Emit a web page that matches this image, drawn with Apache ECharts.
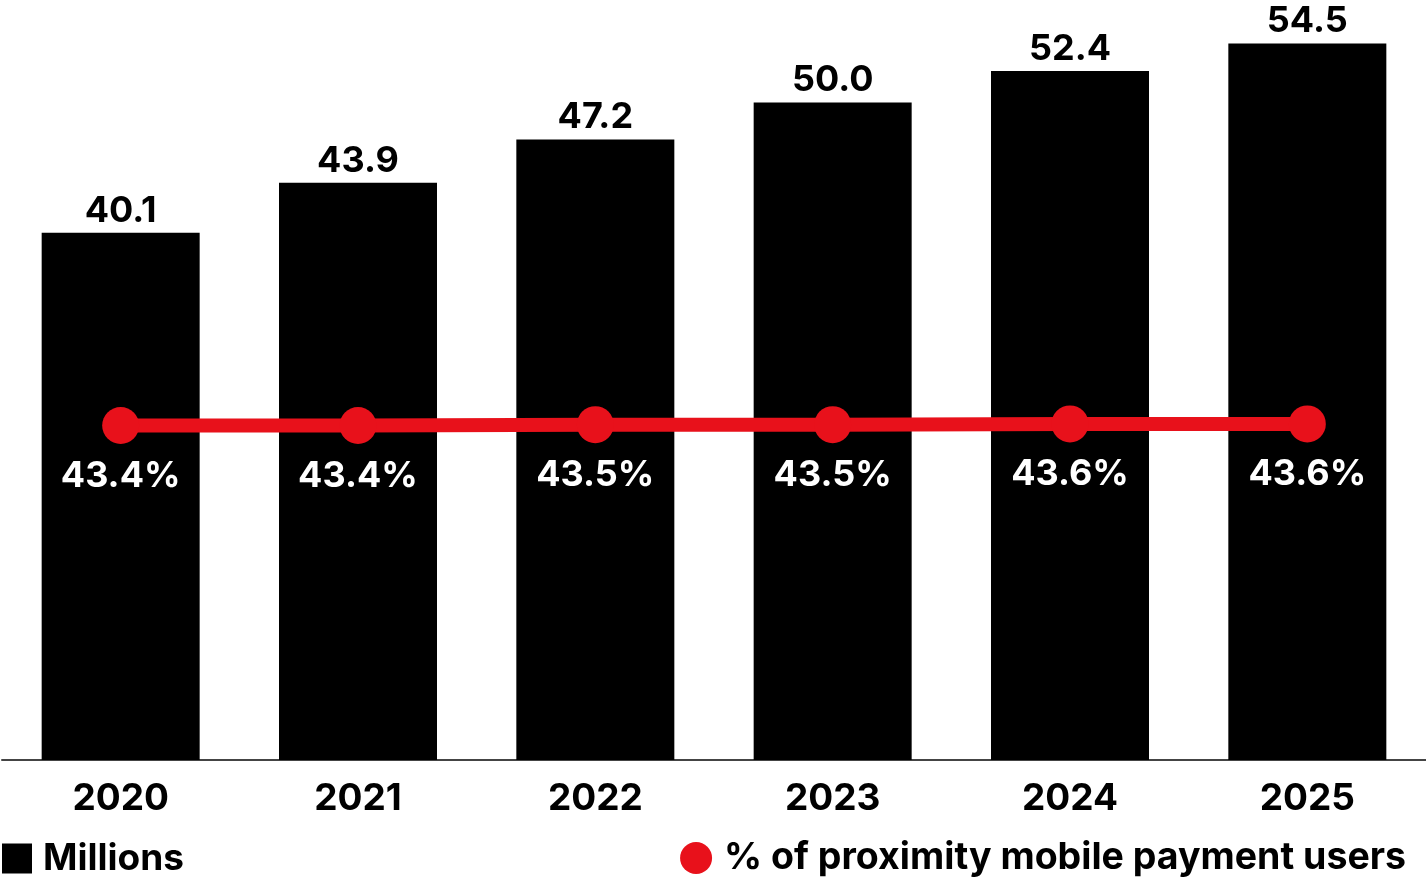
<!DOCTYPE html>
<html>
<head>
<meta charset="utf-8">
<script src="https://cdn.jsdelivr.net/npm/echarts@6/dist/echarts.min.js"></script>
<style>
html,body{margin:0;padding:0;background:#fff;}
#chart{width:1426px;height:878px;}
</style>
</head>
<body>
<div id="chart"></div>
<script>
const years = ['2020', '2021', '2022', '2023', '2024', '2025'];
const millions = [40.1, 43.9, 47.2, 50.0, 52.4, 54.5];
const sharePct = [43.4, 43.4, 43.5, 43.5, 43.6, 43.6];
const barName = 'Millions';
const lineName = '% of proximity mobile payment users';

const FONT = 'Inter, "Noto Sans", sans-serif';
const chart = echarts.init(document.getElementById('chart'));
chart.setOption({
  animation: false,
  backgroundColor: '#fff',
  textStyle: { fontFamily: FONT },
  grid: { left: 2, right: 0, top: 0, bottom: 118, containLabel: false },
  legend: [
    {
      data: [{ name: barName, icon: 'rect' }],
      left: 2, top: 840, padding: 0,
      itemWidth: 30, itemHeight: 30,
      textStyle: { fontFamily: FONT, fontSize: 37, fontWeight: 'bold', color: '#000', padding: [0, 0, 0, 6] }
    },
    {
      data: [{ name: lineName, icon: 'circle' }],
      right: 20, top: 839, padding: 0,
      itemWidth: 32, itemHeight: 32,
      textStyle: { fontFamily: FONT, fontSize: 37.5, fontWeight: 'bold', color: '#000', padding: [0, 0, 0, 7] }
    }
  ],
  xAxis: {
    type: 'category',
    data: years,
    axisLine: { lineStyle: { color: '#444', width: 2 } },
    axisTick: { show: false },
    axisLabel: { fontFamily: FONT, fontSize: 37, fontWeight: 'bold', color: '#000', margin: 20 }
  },
  yAxis: [
    { type: 'value', min: 0, max: 57.8, show: false, splitLine: { show: false } },
    { type: 'value', min: 0, max: 98.6, show: false, splitLine: { show: false } }
  ],
  series: [
    {
      name: barName,
      type: 'bar',
      data: millions,
      barWidth: 158,
      itemStyle: { color: '#000' },
      label: {
        show: true, position: 'top', distance: 4,
        fontFamily: FONT, fontSize: 36, fontWeight: 'bold', color: '#000',
        formatter: p => p.value.toFixed(1)
      }
    },
    {
      name: lineName,
      type: 'line',
      yAxisIndex: 1,
      data: sharePct,
      symbol: 'circle',
      symbolSize: 37,
      lineStyle: { color: '#e8111b', width: 14 },
      itemStyle: { color: '#e8111b' },
      label: {
        show: true, position: 'bottom', distance: 14,
        fontFamily: FONT, fontSize: 36, fontWeight: 'bold', color: '#fff',
        formatter: p => p.value.toFixed(1) + '%'
      }
    }
  ]
});
</script>
</body>
</html>
